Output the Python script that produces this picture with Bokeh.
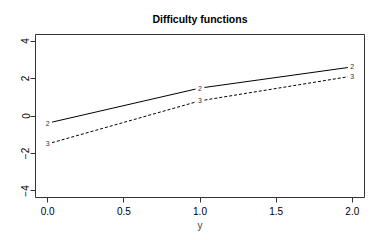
import math
from bokeh.plotting import figure
from bokeh.models import Range1d, FixedTicker, ColumnDataSource
from bokeh.core.properties import value
from bokeh.embed import file_html
from bokeh.resources import INLINE

# data
x_vals = [0.0, 1.0, 2.0]
series_2 = [-0.38, 1.49, 2.62]
series_3 = [-1.49, 0.81, 2.13]
series_labels = ["2", "3"]
x_ticks = [0.0, 0.5, 1.0, 1.5, 2.0]
x_tick_labels = ["0.0", "0.5", "1.0", "1.5", "2.0"]
y_ticks = [-4, -2, 0, 2, 4]

FONT = "Liberation Sans"
W, H = 382, 240
ML, MR, MT, MB = 35, 18, 34, 43
xr = (-0.08, 2.08)
yr = (-4.35, 4.35)

p = figure(width=W, height=H, output_backend="svg", toolbar_location=None,
           x_range=Range1d(*xr), y_range=Range1d(*yr),
           min_border_left=ML, min_border_right=MR, min_border_top=MT, min_border_bottom=MB,
           title="Difficulty functions")
p.grid.visible = False
p.outline_line_color = "#333333"
p.outline_line_width = 1
p.background_fill_color = "white"
p.border_fill_color = "white"

p.title.align = "center"
p.title.vertical_align = "bottom"
p.title.text_font = FONT
p.title.text_font_size = "10.5px"
p.title.text_font_style = "bold"
p.title.text_color = "black"
p.title.standoff = 20

for ax in (p.xaxis[0], p.yaxis[0]):
    ax.axis_line_color = None
    ax.major_tick_out = 5
    ax.major_tick_in = 0
    ax.minor_tick_line_color = None
    ax.major_tick_line_color = "#333333"
    ax.major_label_text_font = FONT
    ax.major_label_text_font_size = "10px"
    ax.major_label_text_color = "black"

p.xaxis.ticker = FixedTicker(ticks=x_ticks)
p.xaxis.major_label_overrides = {t: l for t, l in zip(x_ticks, x_tick_labels)}
p.xaxis.major_label_standoff = 4
p.xaxis.axis_label = "y"
p.xaxis.axis_label_text_font = FONT
p.xaxis.axis_label_text_font_size = "10px"
p.xaxis.axis_label_text_font_style = "normal"
p.xaxis.axis_label_standoff = 2

p.yaxis.ticker = FixedTicker(ticks=y_ticks)
p.yaxis.major_label_orientation = "vertical"
p.yaxis.major_label_standoff = 1

# pixel scale for the gaps around the point labels (type="b")
fw = W - ML - MR
fh = H - MT - MB
sx = fw / (xr[1] - xr[0])
sy = fh / (yr[1] - yr[0])
GAP = 4.5

def gapped(xs, ys):
    x0s, y0s, x1s, y1s = [], [], [], []
    for i in range(len(xs) - 1):
        dx = (xs[i + 1] - xs[i]) * sx
        dy = (ys[i + 1] - ys[i]) * sy
        L = math.hypot(dx, dy)
        f = GAP / L
        x0s.append(xs[i] + (xs[i + 1] - xs[i]) * f)
        y0s.append(ys[i] + (ys[i + 1] - ys[i]) * f)
        x1s.append(xs[i + 1] - (xs[i + 1] - xs[i]) * f)
        y1s.append(ys[i + 1] - (ys[i + 1] - ys[i]) * f)
    return dict(x0=x0s, y0=y0s, x1=x1s, y1=y1s)

for ys, dash, lab in [(series_2, "solid", series_labels[0]), (series_3, "3 2", series_labels[1])]:
    seg = ColumnDataSource(gapped(x_vals, ys))
    p.segment("x0", "y0", "x1", "y1", source=seg, line_color="black", line_width=1, line_dash=dash)
    p.text(x=x_vals, y=ys, text=[lab] * len(x_vals), text_font=value(FONT), text_font_size="7px",
           text_align="center", text_baseline="middle", text_color="#333333")

open("out.html", "w").write(file_html(p, INLINE))
